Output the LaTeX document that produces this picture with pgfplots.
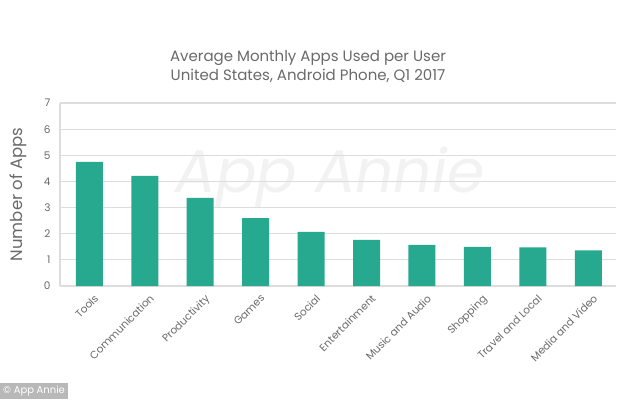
\documentclass[border=0pt]{standalone}
\usepackage{pgfplots}
\pgfplotsset{compat=1.18}
\usepackage{fontspec}
\setmainfont{Poppins}
\definecolor{barc}{HTML}{27A98F}
\definecolor{txt}{HTML}{6A6A6A}
\definecolor{gridc}{HTML}{DDDDDD}
\begin{document}
\begin{tikzpicture}[x=1pt,y=1pt]
\useasboundingbox[fill=white] (0,0) rectangle (634,399);
\node[text=black!5, font=\fontsize{60}{60}\selectfont\itshape] at (330,222) {App Annie};
\node[text=txt, font=\fontsize{15}{19}\selectfont, align=center] at (308,332) {Average Monthly Apps Used per User\\United States, Android Phone, Q1 2017};
\node[fill=black!28, text=white, font=\fontsize{10}{10}\selectfont, inner sep=3pt, anchor=south west, minimum height=16pt] at (0,0) {\textcopyright\ App Annie};
\begin{axis}[
  at={(60pt,113pt)}, anchor=south west,
  scale only axis, width=556pt, height=183pt,
  ymin=0, ymax=7, ytick={0,1,...,7},
  xmin=-0.53, xmax=9.5,
  xtick=data,
  xticklabels={Tools,Communication,Productivity,Games,Social,Entertainment,Music and Audio,Shopping,Travel and Local,Media and Video},
  xticklabel style={rotate=45, anchor=north east, font=\fontsize{10.5}{11}\selectfont, text=txt, xshift=1pt, yshift=-5pt},
  yticklabel style={font=\fontsize{10.5}{11}\selectfont, text=txt, xshift=-6pt},
  /pgf/number format/assume math mode=true,
  ylabel={Number of Apps},
  ylabel style={font=\fontsize{16.5}{17}\selectfont, text=txt, yshift=10pt},
  ymajorgrids, grid style={gridc, line width=1.2pt},
  axis line style={gridc, line width=1.2pt},
  axis x line*=bottom, axis y line*=left,
  major tick length=0pt,
  ybar, bar width=27pt,
]
\addplot[fill=barc, draw=none] coordinates {(0,4.75) (1,4.21) (2,3.37) (3,2.60) (4,2.07) (5,1.76) (6,1.57) (7,1.50) (8,1.48) (9,1.36)};
\end{axis}
\end{tikzpicture}
\end{document}
